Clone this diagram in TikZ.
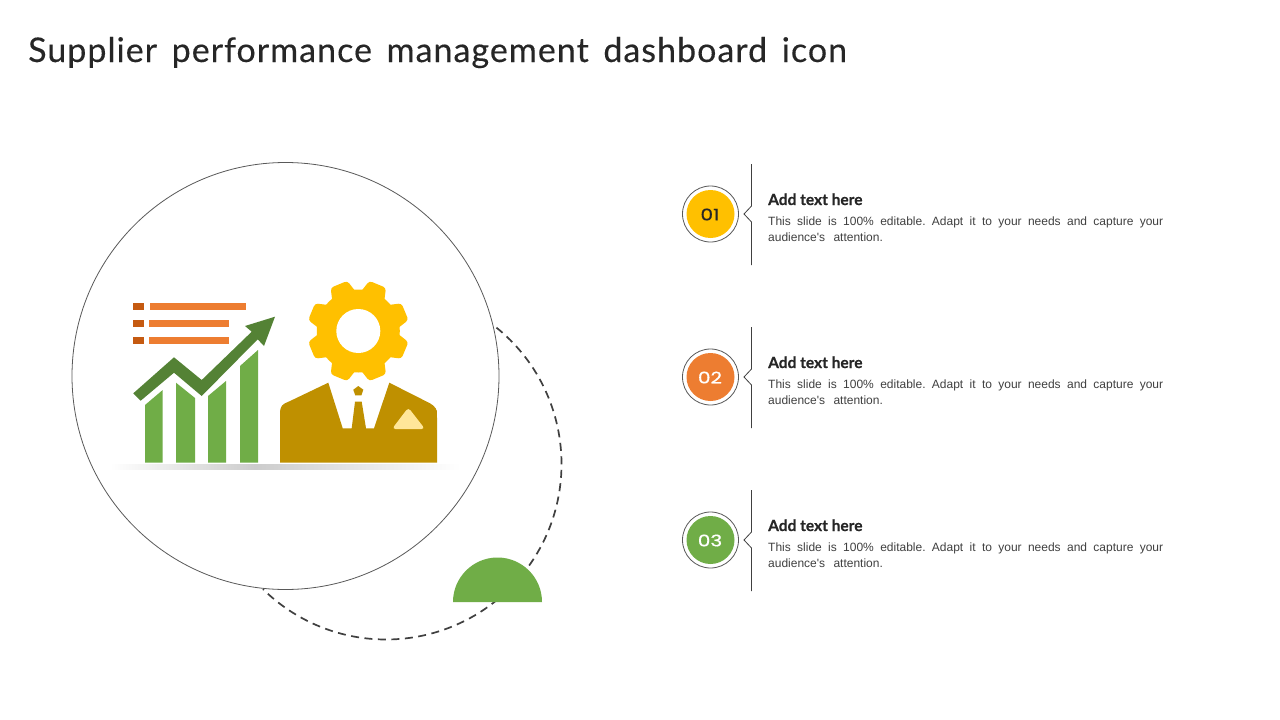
\documentclass[tikz,border=0pt]{standalone}
\usepackage{fontspec}
\usepackage{graphicx}
\setmainfont{Liberation Sans}
\newfontfamily\titlefont[WordSpace=1.5,LetterSpace=3,FakeBold=0.25]{Lato}
\newfontfamily\headfont[FakeBold=0.4]{Lato}
\newfontfamily\numfont[FakeBold=0.6]{Poppins}
\newfontfamily\bodyfont[WordSpace=2.5]{Liberation Sans}
\usetikzlibrary{shadings}
\definecolor{cyellow}{HTML}{FFC000}
\definecolor{corange}{HTML}{ED7D31}
\definecolor{cdorange}{HTML}{C55A11}
\definecolor{cgreen}{HTML}{70AD47}
\definecolor{cdgreen}{HTML}{548235}
\definecolor{csuit}{HTML}{BF9000}
\definecolor{cpocket}{HTML}{FFE699}
\definecolor{ctext}{HTML}{404040}
\definecolor{cring}{HTML}{595959}
\definecolor{ctitle}{HTML}{262626}
\tikzset{
  ringline/.style={draw=cring,line width=0.8pt},
  dashline/.style={draw=ctext,line width=1.7pt,dash pattern=on 8pt off 5.5pt},
  bar/.style={fill=cgreen,draw=none},
  listbar/.style={fill=corange,draw=none},
  listdot/.style={fill=cdorange,draw=none},
  headtext/.style={anchor=base west,inner sep=0pt,text=ctitle,font=\headfont\bfseries\fontsize{15.5}{16}\selectfont},
  bodytext/.style={anchor=north west,inner sep=0pt,text width=395pt,align=justify,text=ctext,font=\bodyfont\frenchspacing\fontsize{12}{16}\selectfont},
  numtext/.style={inner sep=0pt,font=\numfont\fontsize{16}{16}\selectfont},
}
\begin{document}
\begin{tikzpicture}[x=1pt,y=-1pt]
\useasboundingbox (0,0) rectangle (1280,720);
\fill[white] (0,0) rectangle (1280,720);
\node[anchor=base west,inner sep=0pt,text=ctitle,font=\titlefont\fontsize{34}{36}\selectfont] (title) at (28,62) {Supplier performance management dashboard icon};

% dashed orbit and rings
\draw[dashline] (386,464) ++(51:175.5pt) arc[start angle=51,end angle=-134.5,radius=175.5pt];
\draw[ringline] (285.5,376) circle[radius=213.5pt];
\fill[cgreen] (453,602) arc[start angle=180,end angle=0,radius=44.5pt] -- cycle;

% shadow
\shade[left color=white,right color=black!20] (110,464.5) rectangle (255,469);
\shade[left color=black!20,right color=white] (255,464.5) rectangle (460,469);

% list
\fill[listdot] (132.7,303) rectangle (144,310);
\fill[listdot] (132.7,320) rectangle (144,327);
\fill[listdot] (132.7,336.7) rectangle (144,343.7);
\fill[listbar] (150,303) rectangle (246,310);
\fill[listbar] (149,320) rectangle (229,327);
\fill[listbar] (149,336.7) rectangle (229,343.7);

% bars
\fill[bar] (145,405) -- (162.7,390) -- (162.7,462.7) -- (145,462.7) -- cycle;
\fill[bar] (176,382.7) -- (195,398) -- (195,462.7) -- (176,462.7) -- cycle;
\fill[bar] (208,396) -- (226,381) -- (226,462.7) -- (208,462.7) -- cycle;
\fill[bar] (240,366) -- (258,350) -- (258,462.7) -- (240,462.7) -- cycle;

% arrow
\fill[cdgreen] (133.3,393.3) -- (174,357.3) -- (201.7,380) -- (251.7,331.7) -- (245,326) -- (275,316.7) -- (264,346) -- (257.7,339.3) -- (201.7,396) -- (174,372.7) -- (140.7,400.7) -- cycle;

% gear
\fill[cyellow] (358.3,331) circle[radius=41.5pt];
\foreach \k in {0,...,7}{
  \begin{scope}[shift={(358.3,331)},rotate=22.5+45*\k]
    \fill[cyellow,rounded corners=3pt] (-13,-36) -- (-9,-50.5) -- (9,-50.5) -- (13,-36) -- cycle;
  \end{scope}
}
\fill[white] (358.3,331) circle[radius=22pt];

% suit
\fill[csuit] (280,462.7) -- (280,412) [rounded corners=4pt] -- (281,405) -- (288,402) [sharp corners] -- (328.3,382.7) -- (342.7,428.3) -- (351.7,428.3) -- (355,401.7) -- (361.7,401.7) -- (366,428.3) -- (374,428.3) -- (389.3,382.7) -- (430,403.3) [rounded corners=4pt] -- (436.7,408) -- (437,414) [sharp corners] -- (437,462.7) -- cycle;
\fill[csuit] (358.3,386) -- (363.3,389.7) -- (361.4,395.3) -- (355.2,395.3) -- (353.3,389.7) -- cycle;
\fill[cpocket,rounded corners=3.5pt] (408.3,407.5) -- (425,429) -- (392,429) -- cycle;

% items
\foreach \n/\c/\tc/\y in {1/cyellow/ctitle/0,2/corange/white/163,3/cgreen/white/326}{
  \begin{scope}[yshift=-\y pt]
    \draw[ringline] (710.5,214) circle[radius=28pt];
    \fill[\c] (710.5,214) circle[radius=24pt];
    \node[numtext,text=\tc] (num\n) at (710,214.5) {\scalebox{1.25}[1]{0\n}};
    \draw[draw=ctext,line width=0.8pt] (751.5,164) -- (751.5,206) -- (744,214) -- (751.5,222) -- (751.5,265);
    \node[headtext] (head\n) at (768,205) {Add text here};
    \node[bodytext] (body\n) at (768,217) {This slide is 100\% editable. Adapt it to your needs and capture your\linebreak audience's attention.};
  \end{scope}
}
\end{tikzpicture}
\end{document}
